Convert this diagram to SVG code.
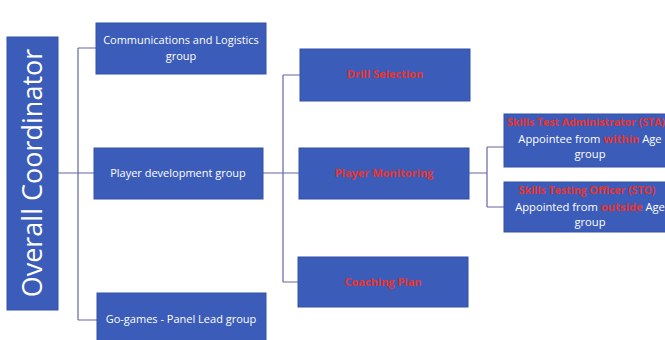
<svg xmlns="http://www.w3.org/2000/svg" width="665" height="340" viewBox="0 0 665 340">
<style>
.box{fill:#3b5cb9;stroke:#3350a8;stroke-width:1}
.w{fill:#ffffff;font-family:"Open Sans","Liberation Sans",sans-serif;font-size:11px;text-anchor:middle}
.r{fill:#e8342e;font-family:"Open Sans","Liberation Sans",sans-serif;font-size:11px;font-weight:bold;text-anchor:middle}
.rs{fill:#e8342e;font-weight:bold}
.ln{stroke:#6466a6;stroke-width:1.2;fill:none}
.s{font-size:11.2px}
</style>
<rect width="665" height="340" fill="#ffffff"/>
<g id="connectors">
<path class="ln" d="M58 173 H78 M78 48 V320 M78 48 H96 M78 173 H94 M78 320 H97"/>
<path class="ln" d="M263 173 H283 M283 75 V282 M283 75 H300 M283 173 H299 M283 282 H298"/>
<path class="ln" d="M469 173 H487 M487 147 V207 M487 147 H504 M487 207 H504"/>
</g>
<g id="overall">
<rect class="box" x="7" y="37" width="51" height="273"/>
<text transform="translate(42 173) rotate(-90)" fill="#ffffff" font-family="'Open Sans','Liberation Sans',sans-serif" font-size="27" text-anchor="middle">Overall Coordinator</text>
</g>
<g id="comms">
<rect class="box" x="96" y="23" width="170" height="51"/>
<text class="w" x="181" y="44">Communications and Logistics</text>
<text class="w" x="181" y="60">group</text>
</g>
<g id="playerdev">
<rect class="box" x="94" y="148" width="169" height="51"/>
<text class="w" x="178" y="177">Player development group</text>
</g>
<g id="gogames">
<rect class="box" x="97" y="293" width="169" height="50"/>
<text class="w" x="181" y="323">Go-games - Panel Lead group</text>
</g>
<g id="drill">
<rect class="box" x="300" y="49" width="170" height="52"/>
<text class="r" x="385" y="78">Drill Selection</text>
</g>
<g id="monitoring">
<rect class="box" x="299" y="148" width="170" height="51"/>
<text class="r" x="384" y="177">Player Monitoring</text>
</g>
<g id="coaching">
<rect class="box" x="298" y="257" width="170" height="50"/>
<text class="r" x="383" y="286">Coaching Plan</text>
</g>
<g id="sta">
<rect class="box" x="504" y="114" width="175" height="53"/>
<text class="r" x="507" y="126" style="text-anchor:start;font-size:10.5px">Skills Test Administrator (STA)</text>
<text class="w s" x="590" y="143">Appointee from <tspan class="rs">within</tspan> Age</text>
<text class="w s" x="590" y="158">group</text>
</g>
<g id="sto">
<rect class="box" x="504" y="182" width="175" height="50"/>
<text class="r" x="587" y="194" style="font-size:10.5px">Skills Testing Officer (STO)</text>
<text class="w s" x="590" y="211">Appointed from <tspan class="rs">outside</tspan> Age</text>
<text class="w s" x="590" y="226">group</text>
</g>
</svg>
